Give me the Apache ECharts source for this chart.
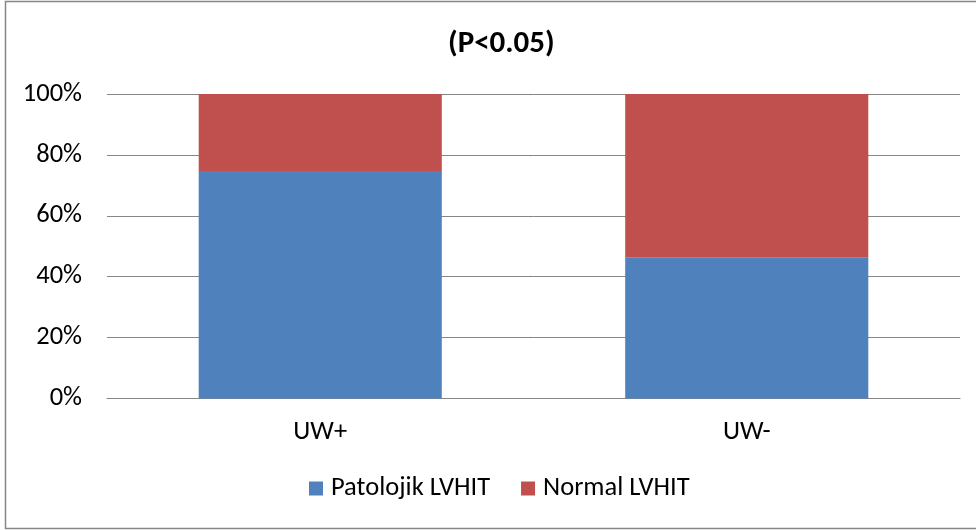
<!DOCTYPE html>
<html><head><meta charset="utf-8">
<script src="https://cdn.jsdelivr.net/npm/echarts@6/dist/echarts.min.js"></script>
<style>html,body{margin:0;padding:0;background:#fff}#c{width:976px;height:530px}</style>
</head><body><div id="c"></div>
<script>
const categories = ['UW+', 'UW-'];
const patolojik = [74.7, 46.4];
const normal = [25.3, 53.6];
const yTicks = [0, 20, 40, 60, 80, 100];
const seriesNames = ['Patolojik LVHIT', 'Normal LVHIT'];
const titleText = '(P<0.05)';

const chart = echarts.init(document.getElementById('c'), null, {renderer: 'canvas'});
const font = 'Carlito, Lato, "Open Sans", sans-serif';
chart.setOption({
  animation: false,
  backgroundColor: '#fff',
  title: {text: titleText, left: 443, top: 24,
    textStyle: {fontFamily: font, fontSize: 31, fontWeight: 'bold', color: '#000'}},
  graphic: [{type: 'rect', shape: {x: 5.5, y: 1.5, width: 975, height: 527},
    style: {fill: 'none', stroke: '#868686', lineWidth: 1.5}, silent: true}],
  legend: {bottom: 23, left: 304, itemWidth: 14, itemHeight: 14, itemGap: 31,
    icon: 'rect', textStyle: {fontFamily: font, fontSize: 26.5, color: '#000', padding: [0,0,0,3]},
    data: seriesNames},
  grid: {left: 107, right: 16, top: 94, bottom: 131.5},
  xAxis: {type: 'category', data: categories,
    axisLine: {lineStyle: {color: '#868686', width: 1}}, axisTick: {show: false},
    axisLabel: {fontFamily: font, fontSize: 26.5, color: '#000', margin: 20}},
  yAxis: {type: 'value', min: 0, max: 100, interval: 20,
    axisLine: {show: false}, axisTick: {show: false},
    splitLine: {lineStyle: {color: '#868686', width: 1}},
    axisLabel: {fontFamily: font, fontSize: 26.5, color: '#000', margin: 25,
      formatter: v => yTicks.includes(v) ? v + '%' : ''}},
  series: [
    {name: seriesNames[0], type: 'bar', stack: 's', data: patolojik, barWidth: '57%',
      itemStyle: {color: '#4F81BD'}},
    {name: seriesNames[1], type: 'bar', stack: 's', data: normal, barWidth: '57%',
      itemStyle: {color: '#C0504D'}}
  ]
});
</script></body></html>
